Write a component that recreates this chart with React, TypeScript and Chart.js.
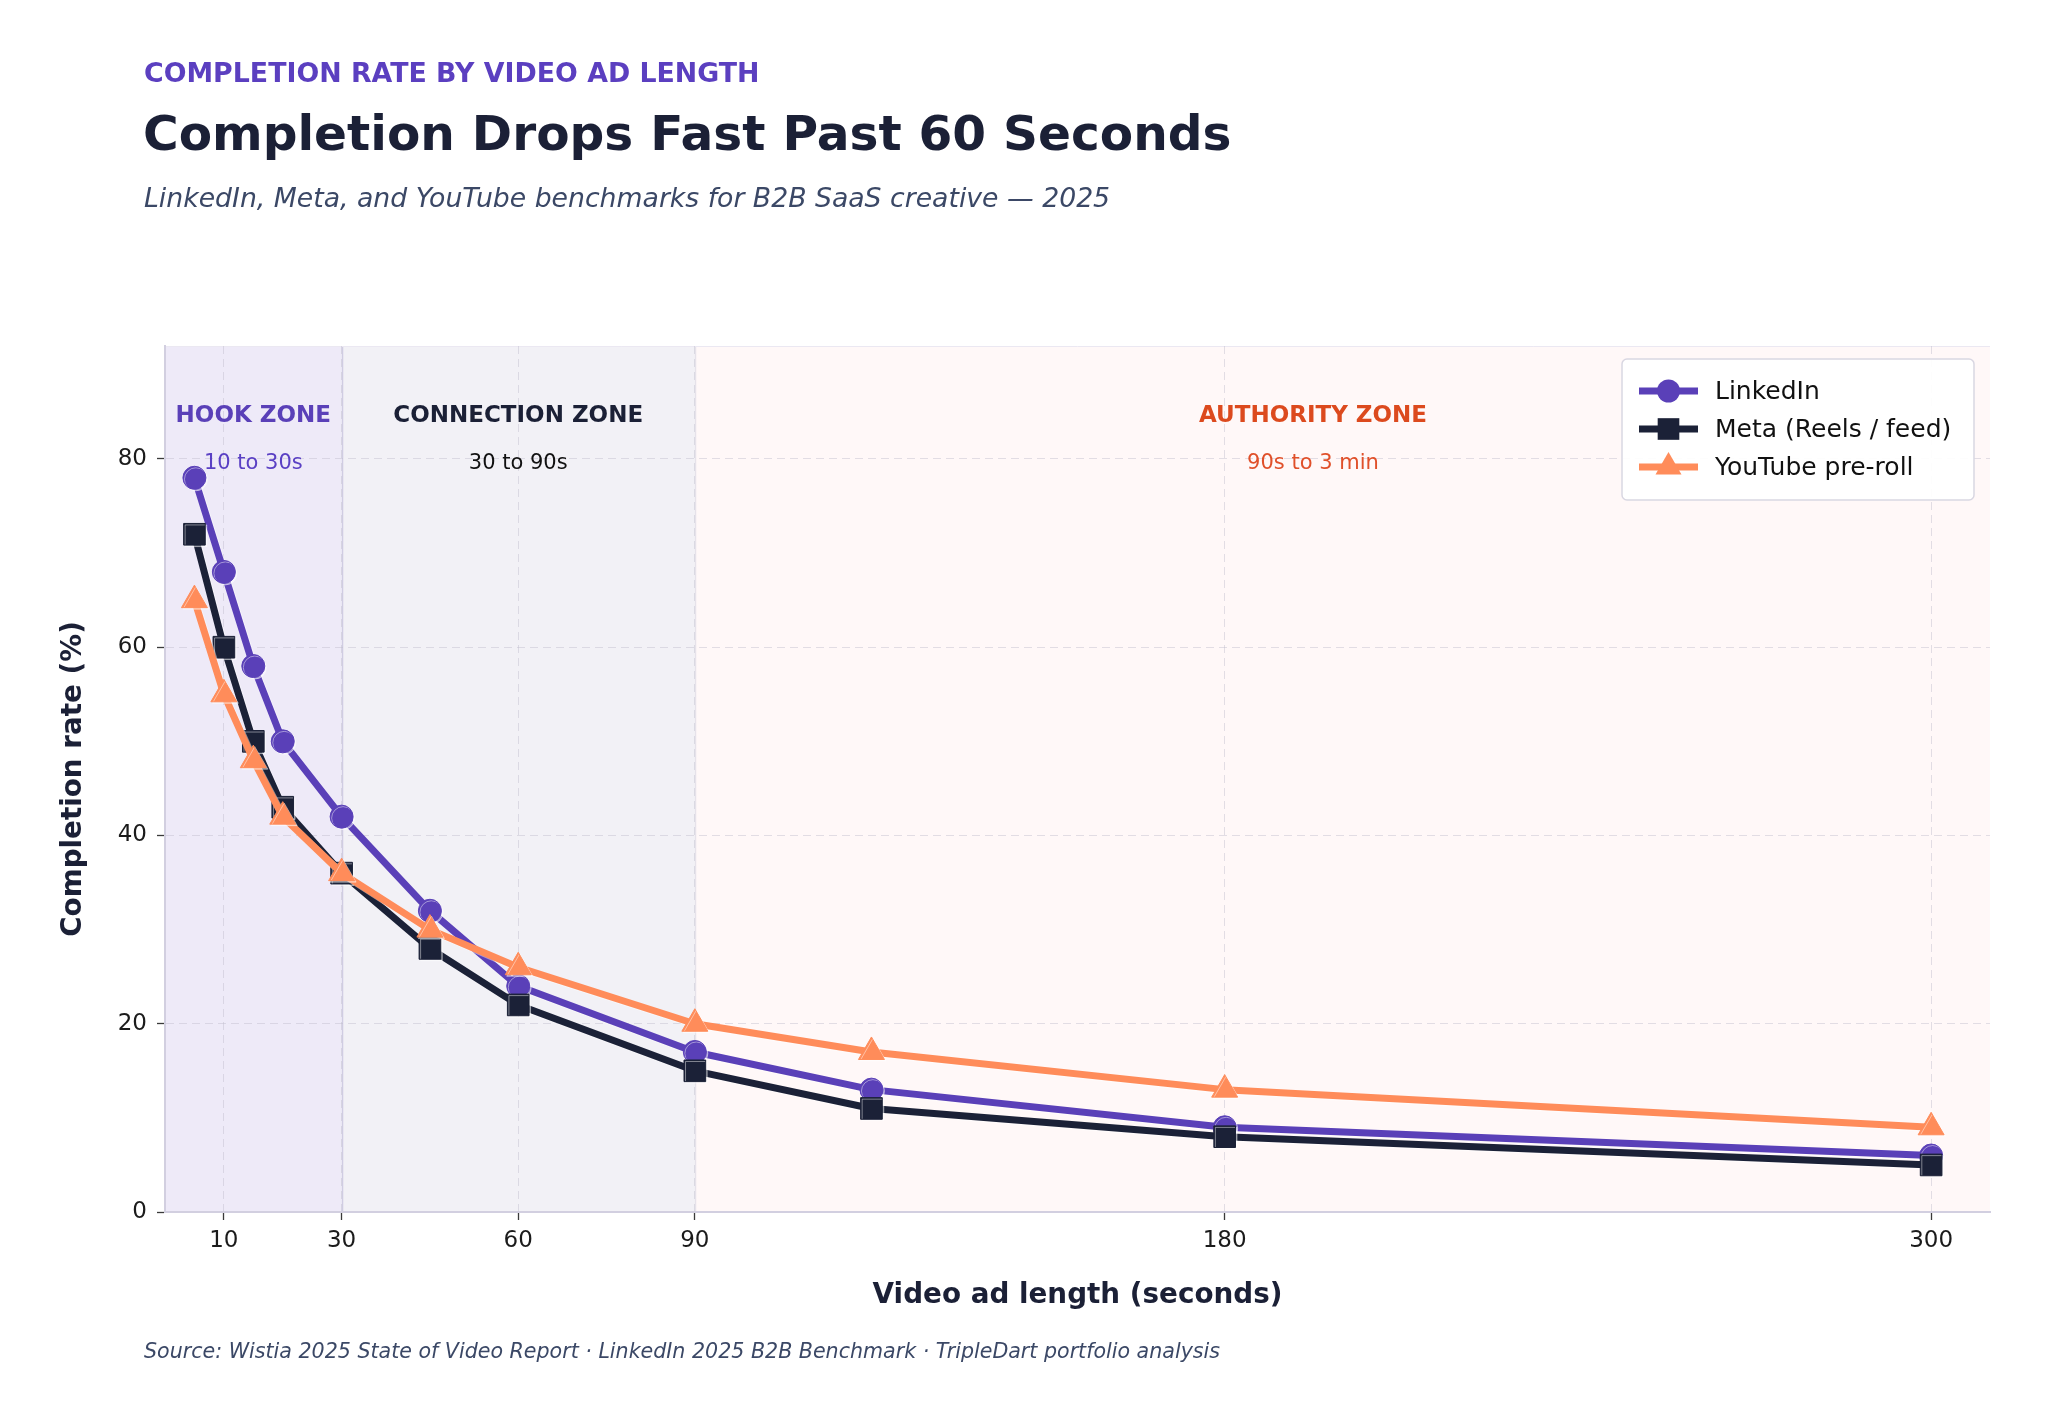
import React, { useEffect, useRef } from "react";
import { Chart, registerables } from "chart.js";

Chart.register(...registerables);

// ---------- data ----------
const durations = [5, 10, 15, 20, 30, 45, 60, 90, 120, 180, 300];
const linkedinRates = [78, 68, 58, 50, 42, 32, 24, 17, 13, 9, 6];
const metaRates = [72, 60, 50, 43, 36, 28, 22, 15, 11, 8, 5];
const youtubeRates = [65, 55, 48, 42, 36, 30, 26, 20, 17, 13, 9];
const seriesNames = ["LinkedIn", "Meta (Reels / feed)", "YouTube pre-roll"];

const xTickValues = [10, 30, 60, 90, 180, 300];
const yTickValues = [0, 20, 40, 60, 80];

const zoneStarts = [0, 30, 90];
const zoneEnds = [30, 90, 310];
const zoneLabelX = [15, 60, 195];
const zoneTitles = ["HOOK ZONE", "CONNECTION ZONE", "AUTHORITY ZONE"];
const zoneSubtitles = ["10 to 30s", "30 to 90s", "90s to 3 min"];
const zoneTitleY = 85;
const zoneSubtitleY = 80;

const kicker = "COMPLETION RATE BY VIDEO AD LENGTH";
const title = "Completion Drops Fast Past 60 Seconds";
const subtitle = "LinkedIn, Meta, and YouTube benchmarks for B2B SaaS creative \u2014 2025";
const source =
  "Source: Wistia 2025 State of Video Report \u00b7 LinkedIn 2025 B2B Benchmark \u00b7 TripleDart portfolio analysis";
const xTitle = "Video ad length (seconds)";
const yTitle = "Completion rate (%)";

// ---------- styles ----------
const W = 2048;
const H = 1424;
const FONT = "'DejaVu Sans', 'Noto Sans', sans-serif";
const PURPLE = "#5a40b8";
const NAVY = "#1b2137";
const ORANGE = "#ff8c5a";
const INK = "#1b2036";
const MUTED = "#3b4866";
const zoneFills = ["#eeeaf8", "#f2f1f6", "#fff8f8"];
const zoneTitleColors = [PURPLE, INK, "#dc4a1e"];
const zoneSubColors = ["#5a40c4", "#111111", "#e0502a"];
const seriesColors = [PURPLE, NAVY, ORANGE];
const seriesPointStyles = ["circle", "rect", "triangle"];
const seriesPointRadius = [11.5, 15.3, 15];

function drawMarker(ctx: CanvasRenderingContext2D, style: string, x: number, y: number, r: number) {
  ctx.beginPath();
  if (style === "circle") {
    ctx.arc(x, y, r, 0, Math.PI * 2);
  } else if (style === "rect") {
    const s = r * Math.SQRT1_2;
    ctx.rect(x - s, y - s, 2 * s, 2 * s);
  } else {
    const a = (2 * Math.PI) / 3;
    for (let i = 0; i < 3; i++) {
      const px = x + Math.sin(i * a) * r;
      const py = y - Math.cos(i * a) * r;
      if (i === 0) ctx.moveTo(px, py);
      else ctx.lineTo(px, py);
    }
    ctx.closePath();
  }
  ctx.fill();
}

const decorPlugin = {
  id: "decor",
  beforeDraw(chart: any) {
    const ctx: CanvasRenderingContext2D = chart.ctx;
    const { left, right, top, bottom } = chart.chartArea;
    const xs = chart.scales.x;
    ctx.save();
    ctx.fillStyle = "#ffffff";
    ctx.fillRect(0, 0, W, H);
    // zone backgrounds
    for (let i = 0; i < zoneStarts.length; i++) {
      const x0 = Math.max(left, xs.getPixelForValue(zoneStarts[i]));
      const x1 = Math.min(right, xs.getPixelForValue(zoneEnds[i]));
      ctx.fillStyle = zoneFills[i];
      ctx.fillRect(x0, top, x1 - x0, bottom - top);
    }
    // zone separators
    ctx.lineWidth = 1.5;
    ctx.strokeStyle = "#d0cce2";
    let px = Math.round(xs.getPixelForValue(zoneEnds[0])) + 0.5;
    ctx.beginPath();
    ctx.moveTo(px, top);
    ctx.lineTo(px, bottom);
    ctx.stroke();
    ctx.strokeStyle = "#e6e2ea";
    px = Math.round(xs.getPixelForValue(zoneEnds[1])) + 0.5;
    ctx.beginPath();
    ctx.moveTo(px, top);
    ctx.lineTo(px, bottom);
    ctx.stroke();
    // top faint edge
    ctx.strokeStyle = "#ebe8f2";
    ctx.lineWidth = 1;
    ctx.beginPath();
    ctx.moveTo(left, top + 0.5);
    ctx.lineTo(right, top + 0.5);
    ctx.stroke();

    // header texts
    ctx.textAlign = "left";
    ctx.textBaseline = "middle";
    ctx.fillStyle = "#5b3fc0";
    ctx.font = `bold 26.8px ${FONT}`;
    ctx.fillText(kicker, 144, 75);
    ctx.fillStyle = INK;
    ctx.font = `bold 48.6px ${FONT}`;
    ctx.fillText(title, 143, 137);
    ctx.fillStyle = MUTED;
    ctx.font = `oblique 26.7px ${FONT}`;
    ctx.fillText(subtitle, 144, 200);
    ctx.font = `oblique 20.6px ${FONT}`;
    ctx.fillText(source, 144, 1353);
    ctx.restore();
  },
  beforeDatasetsDraw(chart: any) {
    const ctx: CanvasRenderingContext2D = chart.ctx;
    const xs = chart.scales.x;
    const ys = chart.scales.y;
    ctx.save();
    ctx.textAlign = "center";
    ctx.textBaseline = "middle";
    for (let i = 0; i < zoneTitles.length; i++) {
      const x = xs.getPixelForValue(zoneLabelX[i]);
      ctx.fillStyle = zoneTitleColors[i];
      ctx.font = `bold 23px ${FONT}`;
      ctx.fillText(zoneTitles[i], x, ys.getPixelForValue(zoneTitleY) + 4);
      ctx.fillStyle = zoneSubColors[i];
      ctx.font = `21px ${FONT}`;
      ctx.fillText(zoneSubtitles[i], x, ys.getPixelForValue(zoneSubtitleY) + 5);
    }
    ctx.restore();
  },
  beforeDatasetDraw(chart: any) {
    const ctx: CanvasRenderingContext2D = chart.ctx;
    ctx.save();
    ctx.shadowColor = "rgba(255,255,255,0.45)";
    ctx.shadowOffsetX = 1.5;
    ctx.shadowOffsetY = 1.5;
    ctx.shadowBlur = 0;
  },
  afterDatasetDraw(chart: any) {
    chart.ctx.restore();
  },
  afterDraw(chart: any) {
    const ctx: CanvasRenderingContext2D = chart.ctx;
    const bx = 1622, by = 359, bw = 352, bh = 141;
    ctx.save();
    ctx.fillStyle = "rgba(255,255,255,0.92)";
    ctx.strokeStyle = "#d9d7e2";
    ctx.lineWidth = 1.5;
    ctx.beginPath();
    (ctx as any).roundRect(bx, by, bw, bh, 5);
    ctx.fill();
    ctx.stroke();
    ctx.textAlign = "left";
    ctx.textBaseline = "middle";
    ctx.font = `25px ${FONT}`;
    for (let i = 0; i < seriesNames.length; i++) {
      const y = 391 + i * 38;
      ctx.strokeStyle = seriesColors[i];
      ctx.lineWidth = 7;
      ctx.beginPath();
      ctx.moveTo(1639, y);
      ctx.lineTo(1698, y);
      ctx.stroke();
      ctx.fillStyle = seriesColors[i];
      drawMarker(ctx, seriesPointStyles[i], 1668.5, y, seriesPointRadius[i]);
      ctx.fillStyle = "#111111";
      ctx.fillText(seriesNames[i], 1715, y + 1);
    }
    ctx.restore();
  },
};

export default function App() {
  const ref = useRef<HTMLCanvasElement | null>(null);

  useEffect(() => {
    if (!ref.current) return;
    const seriesData = [linkedinRates, metaRates, youtubeRates];
    const chart = new Chart(ref.current, {
      type: "line",
      data: {
        datasets: seriesNames.map((name, i) => ({
          label: name,
          data: durations.map((d, j) => ({ x: d, y: seriesData[i][j] })),
          borderColor: seriesColors[i],
          backgroundColor: seriesColors[i],
          pointBackgroundColor: seriesColors[i],
          pointBorderColor: seriesColors[i],
          pointBorderWidth: 1,
          pointStyle: seriesPointStyles[i] as any,
          pointRadius: seriesPointRadius[i],
          pointHoverRadius: seriesPointRadius[i],
          borderWidth: 7,
          borderJoinStyle: "round" as const,
          borderCapStyle: "round" as const,
          tension: 0,
          fill: false,
          order: 2 - i,
        })),
      },
      options: {
        responsive: false,
        animation: false,
        devicePixelRatio: 1,
        events: [],
        layout: { padding: { left: 32, right: W - 1990, top: 346, bottom: 100 } },
        plugins: {
          legend: { display: false },
          title: { display: false },
          tooltip: { enabled: false },
        },
        scales: {
          x: {
            type: "linear",
            min: 0,
            max: 310,
            afterBuildTicks: (s: any) => {
              s.ticks = xTickValues.map((v) => ({ value: v }));
            },
            afterFit: (s: any) => {
              s.height = H - 100 - 1212;
            },
            ticks: {
              autoSkip: false,
              maxRotation: 0,
              padding: 7,
              color: "#1b1b1b",
              font: { family: FONT, size: 23 },
              callback: (v: any) => String(v),
            },
            grid: {
              color: "rgba(190,188,205,0.45)",
              lineWidth: 1,
              tickColor: "#3a3a3a",
              tickLength: 8,
              tickWidth: 1.3,
              tickBorderDash: [],
            } as any,
            border: { display: true, color: "#d2cfe0", width: 2, dash: [8, 5] } as any,
            title: {
              display: true,
              text: xTitle,
              color: INK,
              font: { family: FONT, size: 27.8, weight: "bold" },
              padding: { top: 0, bottom: 12 },
            },
          },
          y: {
            type: "linear",
            min: 0,
            max: 92,
            afterBuildTicks: (s: any) => {
              s.ticks = yTickValues.map((v) => ({ value: v }));
            },
            afterFit: (s: any) => {
              s.width = 165 - 32;
            },
            ticks: {
              padding: 10,
              color: "#1b1b1b",
              font: { family: FONT, size: 23 },
              callback: (v: any) => String(v),
            },
            grid: {
              color: "rgba(190,188,205,0.45)",
              lineWidth: 1,
              tickColor: "#3a3a3a",
              tickLength: 8,
              tickWidth: 1.3,
              tickBorderDash: [],
            } as any,
            border: { display: true, color: "#d2cfe0", width: 2, dash: [8, 5] } as any,
            title: {
              display: true,
              text: yTitle,
              color: INK,
              font: { family: FONT, size: 27.8, weight: "bold" },
              padding: { top: 25, bottom: 0 },
            },
          },
        },
      },
      plugins: [decorPlugin],
    });
    return () => chart.destroy();
  }, []);

  return (
    <div style={{ position: "absolute", left: 0, top: 0, width: W, height: H, background: "#ffffff" }}>
      <canvas ref={ref} width={W} height={H} style={{ width: W, height: H, display: "block" }} />
    </div>
  );
}
